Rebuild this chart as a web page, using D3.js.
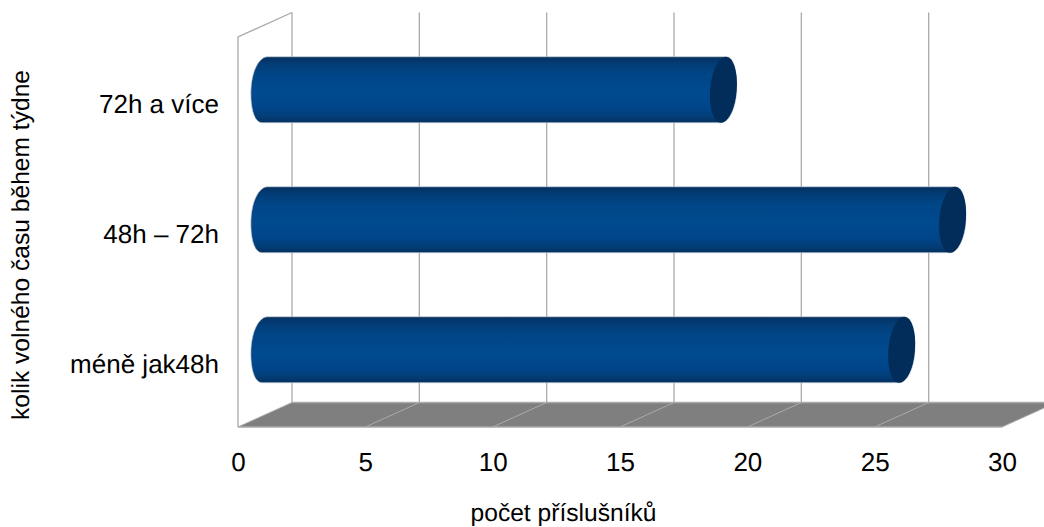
<!DOCTYPE html>
<html>
<head>
<meta charset="utf-8">
<script src="https://cdn.jsdelivr.net/npm/d3@7"></script>
<style>
html, body { margin: 0; padding: 0; background: #fff; }
svg { display: block; }
text { font-family: "Liberation Sans", Arial, sans-serif; fill: #000; text-rendering: geometricPrecision; }
</style>
</head>
<body>
<div id="chart"></div>
<script>
// Free time per week: number of members in each category
const categories = ["méně jak48h", "48h – 72h", "72h a více"];
const members = [25, 27, 18];
const xTicks = [0, 5, 10, 15, 20, 25, 30];
const xTitle = "počet příslušníků";
const yTitle = "kolik volného času během týdne";

const width = 1044, height = 527;
const front = { left: 238, right: 1002, bottom: 427, top: 37 };
const depth = { dx: 54, dy: -24.5 };       // oblique shift of the back wall
const barHeight = 66, capRx = 13.3, capSkew = 2.5;
const gridColor = "#aaaaaa";

const svg = d3.select("#chart").append("svg")
  .attr("width", width).attr("height", height);

const x = d3.scaleLinear().domain([0, 30]).range([front.left, front.right]);
const y = d3.scaleBand().domain(categories).range([front.bottom, front.top]);

// Horizontal gradient band across the cylinder body
const grad = svg.append("defs").append("linearGradient")
  .attr("id", "tube").attr("x1", 0).attr("y1", 0).attr("x2", 0).attr("y2", 1);
[[0, "#03305f"], [0.1, "#033c74"], [0.28, "#004688"], [0.55, "#004a8f"],
 [0.78, "#00458a"], [0.92, "#033c74"], [1, "#03305f"]]
  .forEach(([o, c]) => grad.append("stop").attr("offset", o).attr("stop-color", c));

// Floor of the 3D plot
svg.append("polygon")
  .attr("points", [
    [x(0), front.bottom],
    [x(0) + depth.dx, front.bottom + depth.dy],
    [x(30) + depth.dx, front.bottom + depth.dy],
    [x(30), front.bottom]
  ].map(p => p.join(",")).join(" "))
  .attr("fill", "#7f7f7f");

// Back-wall gridlines and their diagonal continuation over the floor
const grid = svg.append("g");
grid.selectAll("line.back").data(xTicks).join("line")
  .attr("class", "back")
  .attr("x1", d => x(d) + depth.dx).attr("x2", d => x(d) + depth.dx)
  .attr("y1", front.top + depth.dy).attr("y2", front.bottom + depth.dy)
  .attr("stroke", gridColor).attr("stroke-width", 1.3);
grid.selectAll("line.floor").data(xTicks).join("line")
  .attr("class", "floor")
  .attr("x1", d => x(d)).attr("x2", d => x(d) + depth.dx)
  .attr("y1", front.bottom).attr("y2", front.bottom + depth.dy)
  .attr("stroke", gridColor).attr("stroke-width", 1);

// Floor edges
grid.append("line")
  .attr("x1", x(0)).attr("x2", x(30))
  .attr("y1", front.bottom).attr("y2", front.bottom)
  .attr("stroke", gridColor).attr("stroke-width", 1.4);
grid.append("line")
  .attr("x1", x(0) + depth.dx).attr("x2", x(30) + depth.dx)
  .attr("y1", front.bottom + depth.dy).attr("y2", front.bottom + depth.dy)
  .attr("stroke", gridColor).attr("stroke-width", 1.4);

// Left wall outline
svg.append("path")
  .attr("d", d3.line()([
    [x(0), front.bottom],
    [x(0), front.top],
    [x(0) + depth.dx, front.top + depth.dy]
  ]))
  .attr("fill", "none").attr("stroke", gridColor).attr("stroke-width", 1.3);

// Cylinders sit halfway between the front plane and the back wall
const midX = v => x(v) + depth.dx / 2;
const midY = c => y(c) + y.bandwidth() / 2 + depth.dy / 2;

// Tube outline: straight sides closed by a half ellipse at each end
function tubePath(c, v) {
  const cy = midY(c), top = cy - barHeight / 2, bot = cy + barHeight / 2;
  const x0 = midX(0), x1 = midX(v), nearRx = capRx + 0.8;
  const p = d3.path();
  p.moveTo(x0 + capSkew, top);
  p.lineTo(x1 + capSkew, top);
  // far end bulges right
  p.bezierCurveTo(x1 + capSkew + capRx * 0.62, top, x1 + capRx + 0.6, cy - barHeight * 0.27, x1 + capRx, cy);
  p.bezierCurveTo(x1 + capRx - 0.6, cy + barHeight * 0.27, x1 - capSkew + capRx * 0.62, bot, x1 - capSkew, bot);
  p.lineTo(x0 - capSkew, bot);
  // near end bulges left
  p.bezierCurveTo(x0 - capSkew - nearRx * 0.62, bot, x0 - nearRx - 0.6, cy + barHeight * 0.27, x0 - nearRx, cy);
  p.bezierCurveTo(x0 - nearRx + 0.6, cy - barHeight * 0.27, x0 + capSkew - nearRx * 0.62, top, x0 + capSkew, top);
  p.closePath();
  return p.toString();
}

const bars = svg.append("g").selectAll("g")
  .data(categories.map((c, i) => ({ c, v: members[i] })))
  .join("g");

bars.append("path")
  .attr("d", d => tubePath(d.c, d.v))
  .attr("fill", "url(#tube)")
  .attr("stroke", "#c9ced4").attr("stroke-width", 0.7);

// End cap, sheared slightly to follow the oblique projection
bars.append("ellipse")
  .attr("rx", capRx).attr("ry", barHeight / 2)
  .attr("transform", d => `translate(${midX(d.v)},${midY(d.c)}) skewX(${-Math.atan(capSkew / (barHeight / 2)) * 180 / Math.PI})`)
  .attr("fill", "#022c59");

// Axes: labels only, the lines belong to the 3D frame
const xAxis = svg.append("g")
  .attr("transform", `translate(0,${front.bottom})`)
  .call(d3.axisBottom(x).tickValues(xTicks).tickSize(0).tickPadding(26));
xAxis.select(".domain").remove();
xAxis.selectAll("text").attr("font-size", 26).attr("fill", "#000")
  .style("font-family", '"Liberation Sans", Arial, sans-serif');

const yAxis = svg.append("g")
  .attr("transform", `translate(${front.left},0)`)
  .call(d3.axisLeft(y).tickSize(0).tickPadding(19));
yAxis.select(".domain").remove();
yAxis.selectAll("text").attr("font-size", 26).attr("fill", "#000").attr("dy", "0.42em")
  .style("font-family", '"Liberation Sans", Arial, sans-serif');

// Axis titles
svg.append("text")
  .attr("x", 563.5).attr("y", 521)
  .attr("text-anchor", "middle")
  .attr("font-size", 24.6)
  .text(xTitle);

svg.append("text")
  .attr("transform", "translate(29,245) rotate(-90)")
  .attr("text-anchor", "middle")
  .attr("font-size", 24.6)
  .text(yTitle);
</script>
</body>
</html>
